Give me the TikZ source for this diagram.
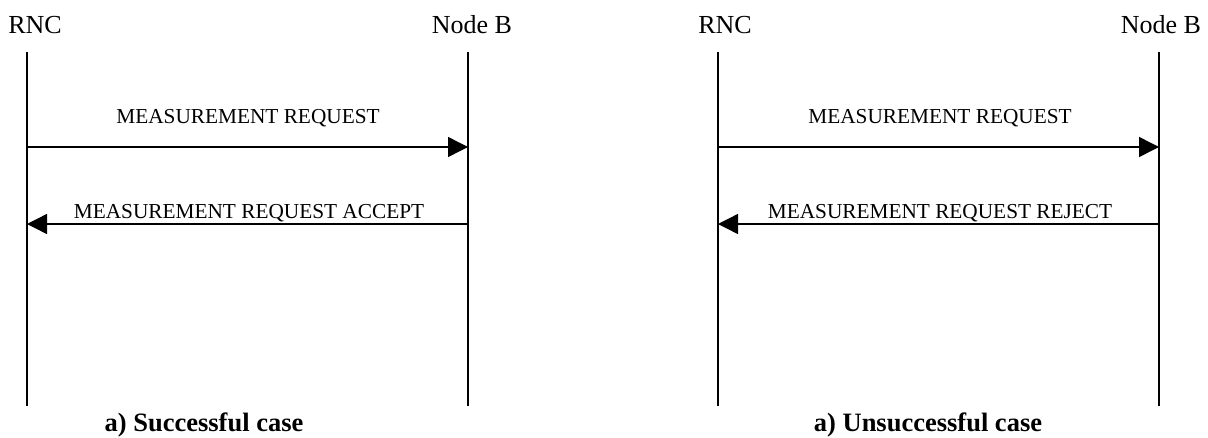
\documentclass[tikz,border=0pt]{standalone}
\usepackage{fontspec}
\setmainfont{Liberation Serif}
\usetikzlibrary{arrows.meta}
\begin{document}
\begin{tikzpicture}[x=1pt,y=-1pt,
  head/.style={anchor=base,inner sep=0pt,font=\fontsize{26}{30}\selectfont},
  msg/.style={anchor=base,inner sep=0pt,font=\fontsize{21.3}{24}\selectfont},
  capt/.style={anchor=base,inner sep=0pt,font=\fontsize{26.5}{30}\selectfont\bfseries},
  life/.style={line width=1.4pt},
  msgline/.style={line width=1.4pt,-{Triangle[length=20pt,width=20pt]}}]
\useasboundingbox (0,0) rectangle (1208,437);
% headers
\node[head] (rnc1) at (35,33) {RNC};
\node[head] (nb1) at (472,33) {Node B};
\node[head] (rnc2) at (725,33) {RNC};
\node[head] (nb2) at (1161,33) {Node B};
% lifelines
\coordinate (rnc1t) at (27,52);  \coordinate (rnc1b) at (27,406);
\coordinate (nb1t) at (468,52);  \coordinate (nb1b) at (468,406);
\coordinate (rnc2t) at (718,52); \coordinate (rnc2b) at (718,406);
\coordinate (nb2t) at (1159,52); \coordinate (nb2b) at (1159,406);
\draw[life] (rnc1t) -- (rnc1b);
\draw[life] (nb1t) -- (nb1b);
\draw[life] (rnc2t) -- (rnc2b);
\draw[life] (nb2t) -- (nb2b);
% messages left
\coordinate (a1s) at (27,147);  \coordinate (a1e) at (468,147);
\coordinate (a2s) at (468,224); \coordinate (a2e) at (27,224);
\draw[msgline] (a1s) -- (a1e);
\draw[msgline] (a2s) -- (a2e);
\node[msg] (m1) at (248,123) {MEASUREMENT REQUEST};
\node[msg] (m2) at (249,218) {MEASUREMENT REQUEST ACCEPT};
% messages right
\coordinate (b1s) at (718,147);  \coordinate (b1e) at (1159,147);
\coordinate (b2s) at (1159,224); \coordinate (b2e) at (718,224);
\draw[msgline] (b1s) -- (b1e);
\draw[msgline] (b2s) -- (b2e);
\node[msg] (m3) at (940,123) {MEASUREMENT REQUEST};
\node[msg] (m4) at (940,218) {MEASUREMENT REQUEST REJECT};
% captions
\node[capt] (c1) at (204,431) {a) Successful case};
\node[capt] (c2) at (928,431) {a) Unsuccessful case};
\end{tikzpicture}
\end{document}
